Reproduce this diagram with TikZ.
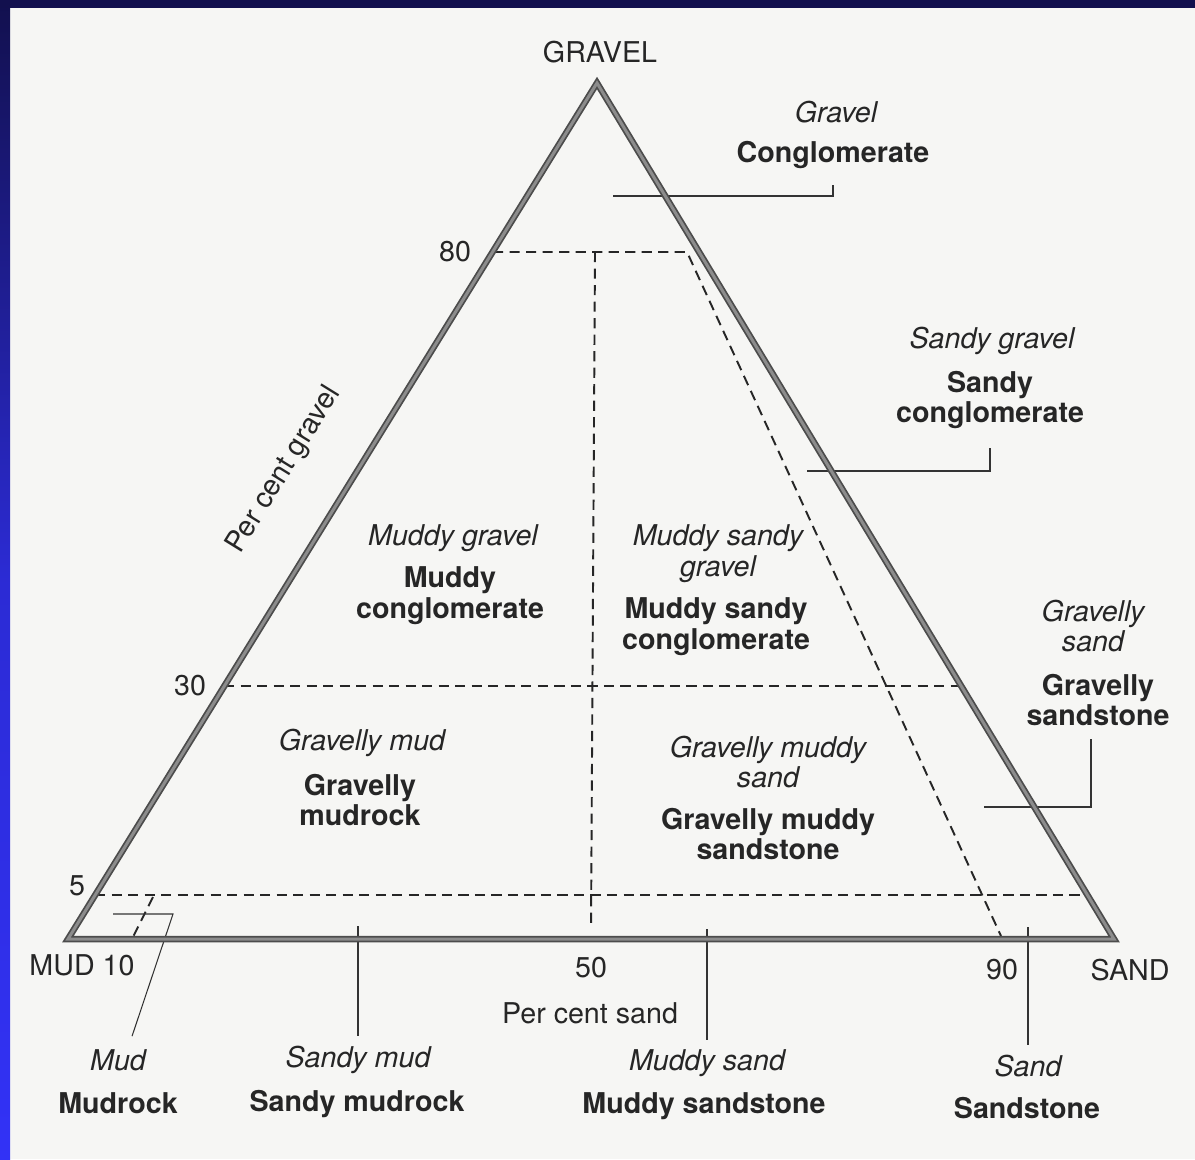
\documentclass[tikz,border=0pt]{standalone}
\usepackage{fontspec}
\setmainfont{TeX Gyre Heros}
\usepackage{tikz}
\definecolor{navy}{HTML}{12104E}
\definecolor{sideblue}{HTML}{3232F6}
\definecolor{paper}{HTML}{F6F6F4}
\definecolor{ink}{HTML}{262626}

\begin{document}
\begin{tikzpicture}[x=0.02cm, y=-0.02cm,
    every node/.style={text=ink, font=\fontsize{16.3}{17.6}\selectfont},
    rock/.style={font=\fontsize{16.3}{17.6}\selectfont\bfseries, align=center},
    sed/.style={font=\fontsize{16.3}{17.6}\selectfont\itshape, align=center},
    side/.style={line width=1pt, draw=black!70, double=black!45, double distance=1.7pt},
    divider/.style={line width=1.1pt, draw=black!85, dash pattern=on 5.8pt off 3.6pt},
    leader/.style={line width=0.6pt, draw=black!80}]
    \useasboundingbox (0,0) rectangle (1195,1159);
    \fill[paper] (0,0) rectangle (1195,1159);
    \shade[top color=navy, bottom color=sideblue, middle color=sideblue!80!navy] (0,0) rectangle (10,1159);
    \fill[navy] (0,0) rectangle (1195,8);

    % corners of the triangle
    \coordinate (pM) at (68,939);
    \coordinate (pS) at (1114,939);
    \coordinate (pG) at (597,83);

    % class boundaries
    \draw[divider] (493,252) -- (687,252) -- (1001,936);
    \draw[divider] (595,252) -- (591,928);
    \draw[divider] (224,686) -- (961,686);
    \draw[divider] (95,895) -- (1087,895);
    \draw[divider] (153,897) -- (133,937);

    % axis labels
    \node (gravel) at (600,52) {GRAVEL};
    \node (mud) at (82,965) {MUD 10};
    \node (sand) at (1130,970) {SAND};
    \node (t80) at (455,252) {80};
    \node (t30) at (190,686) {30};
    \node (t5) at (77,886) {5};
    \node (t50) at (591,968) {50};
    \node (t90) at (1002,970) {90};
    \node (pcs) at (590,1013) {Per cent sand};
    \node[rotate=58.25, inner sep=0pt] (pcg) at (284,470) {Per cent gravel};

    % sediment and rock names
    \node[sed] (grv) at (836,112) {Gravel};
    \node[rock] (cgl) at (833,155) {Conglomerate};
    \node[sed] (sgrv) at (992,341) {Sandy gravel};
    \node[rock] (scgl) at (990,400) {Sandy\\conglomerate};
    \node[sed] (mgrv) at (453,538) {Muddy gravel};
    \node[rock] (mcgl) at (450,596) {Muddy\\conglomerate};
    \node[sed] (msgrv) at (718,554) {Muddy sandy\\gravel};
    \node[rock] (mscgl) at (716,627) {Muddy sandy\\conglomerate};
    \node[sed] (gsnd) at (1093,626) {Gravelly\\sand};
    \node[rock] (gsst) at (1098,700) {Gravelly\\sandstone};
    \node[sed] (gmud) at (362,743) {Gravelly mud};
    \node[rock] (gmdr) at (360,800) {Gravelly\\mudrock};
    \node[sed] (gmsnd) at (768,762) {Gravelly muddy\\sand};
    \node[rock] (gmsst) at (768,834) {Gravelly muddy\\sandstone};
    \node[sed] (md) at (118,1060) {Mud};
    \node[rock] (mdr) at (118,1103) {Mudrock};
    \node[sed] (smd) at (358,1060) {Sandy mud};
    \node[rock] (smdr) at (357,1104) {Sandy mudrock};
    \node[sed] (msnd) at (707,1063) {Muddy sand};
    \node[rock] (msst) at (704,1106) {Muddy sandstone};
    \node[sed] (snd) at (1028,1066) {Sand};
    \node[rock] (sst) at (1027,1108) {Sandstone};

    % leaders
    \coordinate (k1) at (613,196);
    \coordinate (k2) at (807,471);
    \coordinate (k3) at (984,807);
    \coordinate (k4) at (113,914);
    \coordinate (k5) at (173,914);
    \coordinate (k6) at (358,926);
    \coordinate (k7) at (707,929);
    \coordinate (k8) at (1028,927);
    \draw[leader] (k1) -| ([yshift=-6pt]cgl.south);
    \draw[leader] (k2) -| ([yshift=-7pt]scgl.south);
    \draw[leader] (k3) -| ([xshift=-4pt,yshift=-4pt]gsst.south);
    \draw[leader] (k4) -- (k5) -- ([xshift=8pt,yshift=4pt]md.north);
    \draw[leader] (k6) -- ([yshift=2pt]smd.north);
    \draw[leader] (k7) -- ([yshift=2pt]msnd.north);
    \draw[leader] (k8) -- ([yshift=2pt]snd.north);

    % triangle
    \draw[side] (pM) -- (pG) -- (pS) -- cycle;
\end{tikzpicture}
\end{document}
